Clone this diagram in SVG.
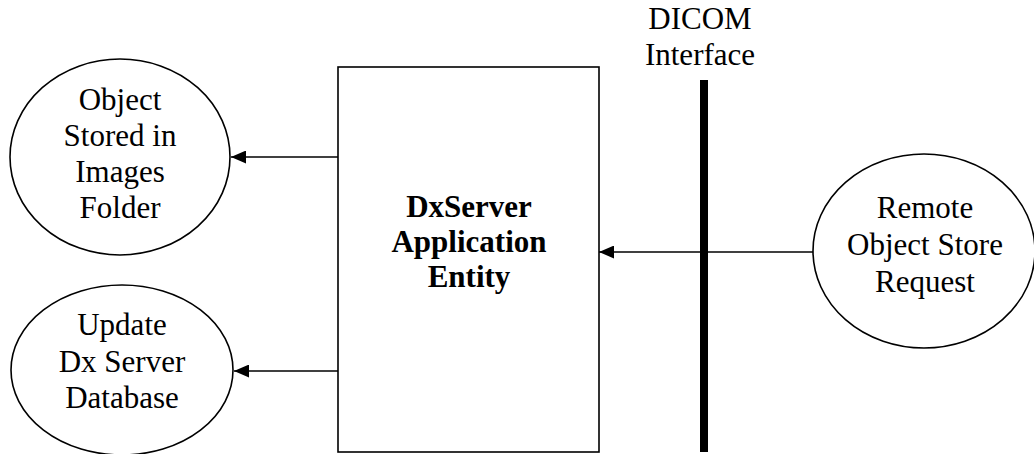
<svg xmlns="http://www.w3.org/2000/svg" width="1034" height="454" viewBox="0 0 1034 454">
<style>
.node{fill:#fff;stroke:#000;stroke-width:1.6}
.t{font-family:"Liberation Serif","Times New Roman",serif;font-size:31px;fill:#000;text-anchor:middle}
.b{font-weight:bold;font-size:31px}
.c{stroke:#000;stroke-width:1.6;fill:none}
</style>
<defs>
<marker id="ah" markerWidth="15" markerHeight="13" refX="15" refY="6.5" orient="auto" markerUnits="userSpaceOnUse">
<path d="M0,0 L15,6.5 L0,13 Z" fill="#000"/>
</marker>
</defs>
<g id="n-stored">
<ellipse class="node" cx="120" cy="157" rx="110" ry="98"/>
<text class="t" x="120" y="110">Object</text>
<text class="t" x="120" y="146">Stored in</text>
<text class="t" x="120" y="182">Images</text>
<text class="t" x="120" y="218">Folder</text>
</g>
<g id="n-update">
<ellipse class="node" cx="122" cy="370" rx="111" ry="85"/>
<text class="t" x="122" y="335">Update</text>
<text class="t" x="122" y="372">Dx Server</text>
<text class="t" x="122" y="408">Database</text>
</g>
<g id="n-app">
<rect class="node" x="338" y="67" width="261" height="385" stroke-width="2"/>
<text class="t b" x="469" y="217">DxServer</text>
<text class="t b" x="469" y="252">Application</text>
<text class="t b" x="469" y="287">Entity</text>
</g>
<g id="n-dicom">
<text class="t" x="700" y="29">DICOM</text>
<text class="t" x="700" y="65">Interface</text>
<rect x="700" y="80" width="8" height="372" fill="#000"/>
</g>
<g id="n-remote">
<ellipse class="node" cx="924" cy="251" rx="111" ry="97"/>
<text class="t" x="925" y="218">Remote</text>
<text class="t" x="925" y="255">Object Store</text>
<text class="t" x="925" y="292">Request</text>
</g>
<g id="connectors">
<line class="c" x1="338" y1="157" x2="231" y2="157" marker-end="url(#ah)"/>
<line class="c" x1="338" y1="371" x2="234" y2="371" marker-end="url(#ah)"/>
<line class="c" x1="813" y1="252" x2="599" y2="252" marker-end="url(#ah)"/>
</g>
</svg>
